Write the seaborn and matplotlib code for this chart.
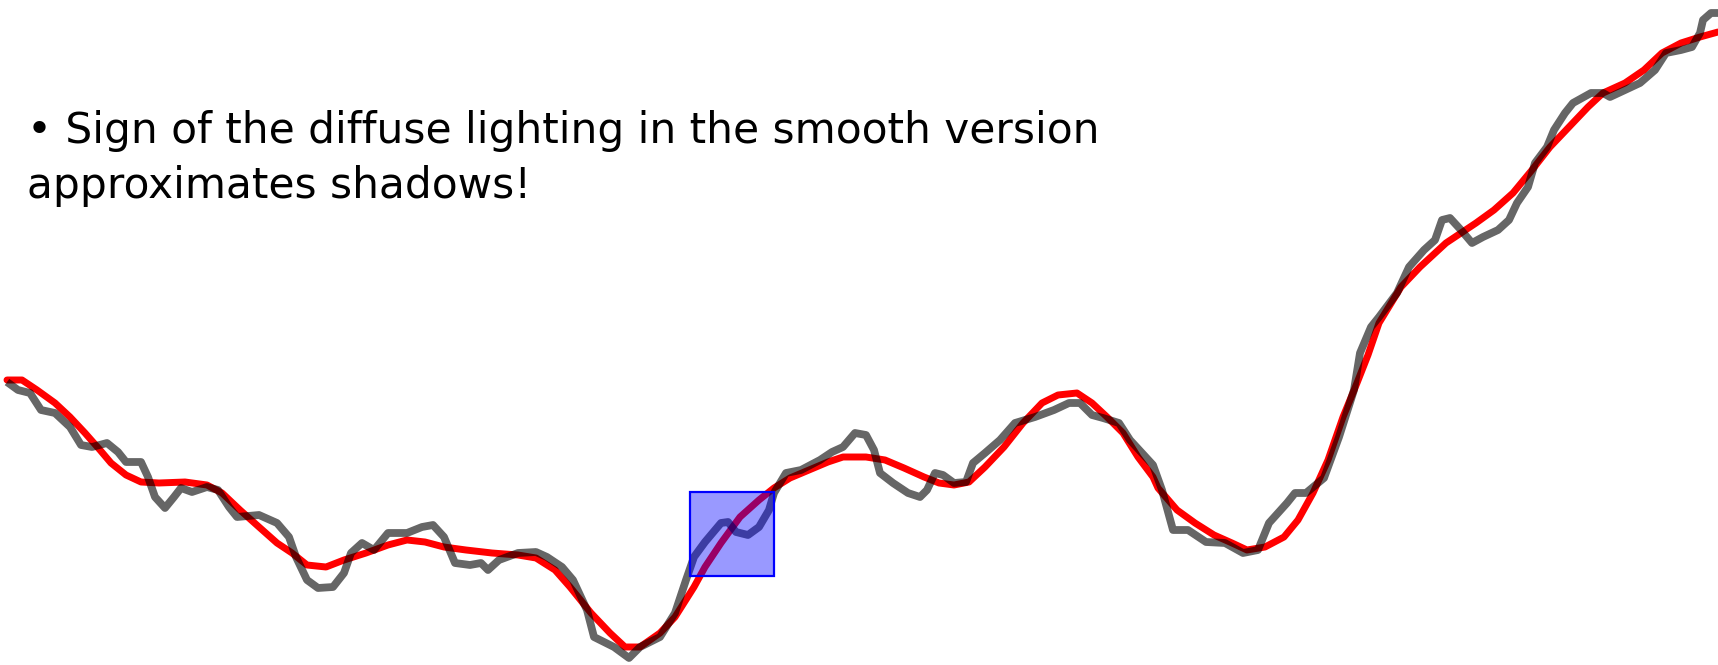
import matplotlib
matplotlib.use("Agg")
import matplotlib.pyplot as plt
from matplotlib.patches import Rectangle
import seaborn as sns

# Terrain profile: heights along the horizontal position (pixel units of the canvas)
smooth_x = [7, 22, 37, 55, 70, 85, 100, 111, 126, 141, 159, 185, 207, 222, 240, 259, 277, 292,
            307, 326, 344, 366, 388, 407, 425, 444, 466, 492, 518, 536, 555, 570, 591, 610, 625,
            640, 660, 675, 694, 705, 721, 740, 759, 774, 790, 809, 828, 843, 866, 885, 904, 924,
            939, 954, 969, 985, 1004, 1023, 1042, 1058, 1077, 1092, 1107, 1123, 1138, 1153, 1158,
            1177, 1195, 1214, 1232, 1247, 1265, 1284, 1298, 1313, 1328, 1343, 1357, 1368, 1379,
            1401, 1420, 1446, 1476, 1494, 1513, 1532, 1550, 1569, 1588, 1603, 1625, 1644, 1662,
            1681, 1700, 1718]
smooth_depth = [380, 380, 390, 403, 417, 433, 450, 463, 475, 482, 483, 482, 485, 493, 510, 527, 543,
                553, 565, 567, 560, 553, 545, 540, 542, 547, 550, 553, 555, 558, 570, 587, 613, 633,
                647, 647, 633, 617, 587, 567, 543, 517, 500, 488, 478, 470, 462, 457, 457, 460, 468,
                477, 483, 485, 482, 467, 447, 423, 403, 395, 393, 403, 417, 433, 457, 477, 488, 510,
                523, 535, 543, 550, 547, 537, 520, 493, 460, 417, 383, 355, 323, 287, 267, 243, 223,
                210, 193, 170, 147, 127, 107, 93, 83, 70, 53, 43, 37, 32]

rough_x = [7, 18, 30, 41, 55, 70, 81, 92, 107, 118, 126, 141, 148, 155, 165, 174, 181, 192, 207,
           218, 229, 237, 259, 277, 289, 296, 307, 318, 333, 344, 351, 362, 374, 388, 407, 422, 433,
           444, 455, 470, 481, 488, 499, 518, 536, 547, 562, 573, 587, 594, 614, 629, 640, 660, 675,
           686, 694, 705, 721, 728, 736, 748, 759, 769, 774, 786, 801, 820, 832, 843, 855, 866, 874,
           880, 893, 908, 920, 927, 935, 943, 954, 966, 973, 985, 1000, 1015, 1035, 1054, 1069,
           1080, 1092, 1103, 1119, 1130, 1142, 1153, 1162, 1173, 1188, 1206, 1225, 1243, 1258,
           1269, 1287, 1295, 1306, 1324, 1339, 1354, 1360, 1371, 1379, 1397, 1409, 1424, 1435,
           1442, 1450, 1461, 1472, 1483, 1498, 1509, 1517, 1528, 1535, 1547, 1554, 1565, 1573,
           1591, 1603, 1610, 1625, 1640, 1655, 1666, 1681, 1692, 1700, 1703, 1711, 1718]
rough_depth = [382, 390, 393, 410, 413, 427, 445, 447, 443, 452, 462, 462, 477, 497, 508, 497, 488,
               492, 487, 490, 507, 517, 515, 523, 537, 557, 580, 588, 587, 573, 553, 543, 550, 533,
               533, 527, 525, 537, 563, 565, 563, 570, 560, 553, 552, 557, 567, 580, 610, 637, 647,
               658, 647, 637, 613, 580, 557, 542, 523, 522, 532, 535, 527, 510, 493, 473, 470, 460,
               452, 447, 433, 435, 450, 473, 483, 493, 497, 490, 473, 475, 483, 482, 463, 453, 440,
               423, 417, 410, 403, 403, 415, 418, 423, 440, 453, 465, 490, 530, 530, 542, 543, 553,
               550, 523, 503, 493, 493, 478, 437, 390, 353, 327, 317, 293, 267, 250, 240, 220, 218,
               230, 243, 237, 230, 220, 203, 187, 163, 147, 130, 113, 103, 93, 93, 97, 90, 83, 70,
               53, 50, 47, 33, 20, 13, 13]

# Highlighted sample window
window_x = [690, 774]
window_depth = [492, 576]

caption_lines = ["\u2022 Sign of the diffuse lighting in the smooth version",
                 "approximates shadows!"]

CANVAS_W, CANVAS_H = 1718, 665

sns.set_theme(style="white")
plt.rcParams["font.family"] = ["DejaVu Sans"]

fig = plt.figure(figsize=(CANVAS_W / 100, CANVAS_H / 100), dpi=100)
ax = fig.add_axes([0, 0, 1, 1])
ax.set_xlim(0, CANVAS_W)
ax.set_ylim(CANVAS_H, 0)
ax.axis("off")

sns.lineplot(x=smooth_x, y=smooth_depth, sort=False, ax=ax, color="#ff0000",
             linewidth=5.0, solid_joinstyle="round", solid_capstyle="round", zorder=2)
sns.lineplot(x=rough_x, y=rough_depth, sort=False, ax=ax, color="black", alpha=0.6,
             linewidth=5.6, solid_joinstyle="round", solid_capstyle="butt", zorder=3)

ax.add_patch(Rectangle((window_x[0], window_depth[0]),
                       window_x[1] - window_x[0], window_depth[1] - window_depth[0],
                       facecolor=(0, 0, 1, 0.4), edgecolor="#0000ff", linewidth=1.6, zorder=4))

ax.text(27, 143, caption_lines[0], fontsize=30.4, color="black", va="baseline", ha="left")
ax.text(27, 198, caption_lines[1], fontsize=30.4, color="black", va="baseline", ha="left")

fig.savefig("out.png", dpi=100, facecolor="white")
